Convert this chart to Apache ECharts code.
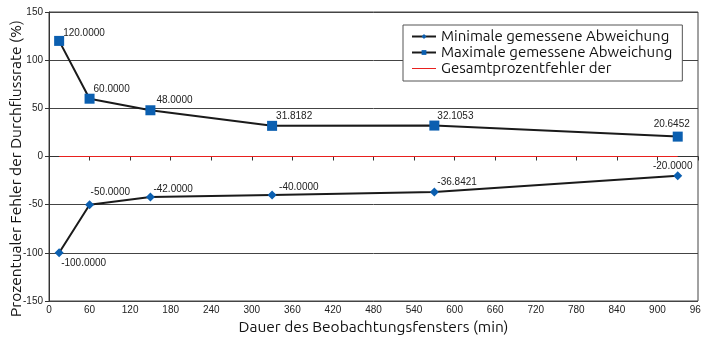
<!DOCTYPE html>
<html>
<head>
<meta charset="utf-8">
<script src="https://cdn.jsdelivr.net/npm/echarts@6/dist/echarts.min.js"></script>
<style>
  html, body { margin: 0; padding: 0; background: #fff; }
  #chart { width: 701px; height: 339px; }
</style>
</head>
<body>
<div id="chart"></div>
<script>
// Observation window durations (min)
const durations = [15, 60, 150, 330, 570, 930];
// Measured deviations (%)
const minDeviation = [-100.0000, -50.0000, -42.0000, -40.0000, -36.8421, -20.0000];
const maxDeviation = [120.0000, 60.0000, 48.0000, 31.8182, 32.1053, 20.6452];
const totalError = [0, 0, 0, 0, 0, 0];

const seriesNames = [
  'Minimale gemessene Abweichung',
  'Maximale gemessene Abweichung',
  'Gesamtprozentfehler der'
];

// label placement per point: [align, dx, dy]
const maxLabelPlace = [['left', 4, -8], ['left', 4, -9], ['left', 6, -10], ['left', 4, -10], ['left', 3, -9], ['center', -6, -12]];
const minLabelPlace = [['left', 2, 10], ['left', 1, -12], ['left', 3, -8], ['left', 7, -8], ['left', 3, -10], ['center', -5, -10]];

const labelFont = { fontFamily: 'Liberation Sans Narrow, Liberation Sans, Arial', fontSize: 10, color: '#222' };
const nameFont = { fontFamily: 'Ubuntu, Noto Sans, sans-serif', fontSize: 15.5, color: '#111' };

function buildData(values, places, fmt) {
  return values.map((v, i) => {
    const p = places ? places[i] : null;
    const item = { value: [durations[i], v] };
    if (p) {
      item.label = {
        show: true, position: 'inside', align: p[0], verticalAlign: 'middle',
        offset: [p[1], p[2]], formatter: fmt(v), ...labelFont
      };
    }
    return item;
  });
}
const fmt4 = v => () => v.toFixed(4);

const chart = echarts.init(document.getElementById('chart'), null, { renderer: 'canvas' });
chart.setOption({
  animation: false,
  backgroundColor: '#fff',
  grid: { left: 49, right: 3, top: 12, bottom: 38, outerBoundsMode: 'none', containLabel: false,
    show: true, borderColor: '#444', borderWidth: 1 },
  legend: {
    orient: 'vertical',
    left: 403, top: 25,
    data: [
      { name: seriesNames[0] },
      { name: seriesNames[1] },
      { name: seriesNames[2], icon: 'path://M0,0 L24,0 L24,1 L0,1 Z', itemStyle: { color: '#e8201e' } }
    ],
    backgroundColor: '#fff',
    borderColor: '#555', borderWidth: 1,
    padding: [4, 10, 5, 8],
    itemGap: 1,
    itemWidth: 24, itemHeight: 6,
    textStyle: { fontFamily: 'Ubuntu, Noto Sans, sans-serif', fontSize: 15, color: '#111' }
  },
  xAxis: {
    type: 'value', min: 0, max: 960, interval: 60,
    name: 'Dauer des Beobachtungsfensters (min)',
    nameLocation: 'middle', nameGap: 18, nameMoveOverlap: false,
    nameTextStyle: { ...nameFont },
    axisLine: { show: true, lineStyle: { color: '#333' } },
    axisTick: { show: true, length: 4, lineStyle: { color: '#333' } },
    axisLabel: { margin: 4, ...labelFont },
    splitLine: { show: false }
  },
  yAxis: {
    type: 'value', min: -150, max: 150, interval: 50,
    name: 'Prozentualer Fehler der Durchflussrate (%)',
    nameLocation: 'middle', nameGap: 25, nameMoveOverlap: false,
    nameTextStyle: { ...nameFont, padding: [0, 24, 0, 0] },
    axisLine: { show: true, lineStyle: { color: '#333' } },
    axisTick: { show: true, length: 4, lineStyle: { color: '#333' } },
    axisLabel: { margin: 6, ...labelFont },
    splitLine: { show: true, lineStyle: { color: '#444', width: 1 } }
  },
  series: [
    {
      name: seriesNames[0], type: 'line',
      data: buildData(minDeviation, minLabelPlace, fmt4),
      symbol: 'diamond', symbolSize: 9,
      lineStyle: { color: '#1a1a1a', width: 2 },
      itemStyle: { color: '#0b5fb0' },
      z: 3
    },
    {
      name: seriesNames[1], type: 'line',
      data: buildData(maxDeviation, maxLabelPlace, fmt4),
      symbol: 'rect', symbolSize: 10,
      lineStyle: { color: '#1a1a1a', width: 2 },
      itemStyle: { color: '#0b5fb0' },
      z: 3
    },
    {
      name: seriesNames[2], type: 'line',
      data: totalError.map((v, i) => {
        const item = { value: [durations[i], v] };
        if (i === 0) {
          item.label = { show: true, position: 'inside', align: 'left', verticalAlign: 'middle',
            offset: [6, -9], formatter: '0,0000', ...labelFont };
        }
        return item;
      }),
      symbol: 'none', symbolSize: 0,
      lineStyle: { color: '#e8201e', width: 1.2 },
      itemStyle: { color: '#e8201e' },
      z: 2
    }
  ]
});
</script>
</body>
</html>
